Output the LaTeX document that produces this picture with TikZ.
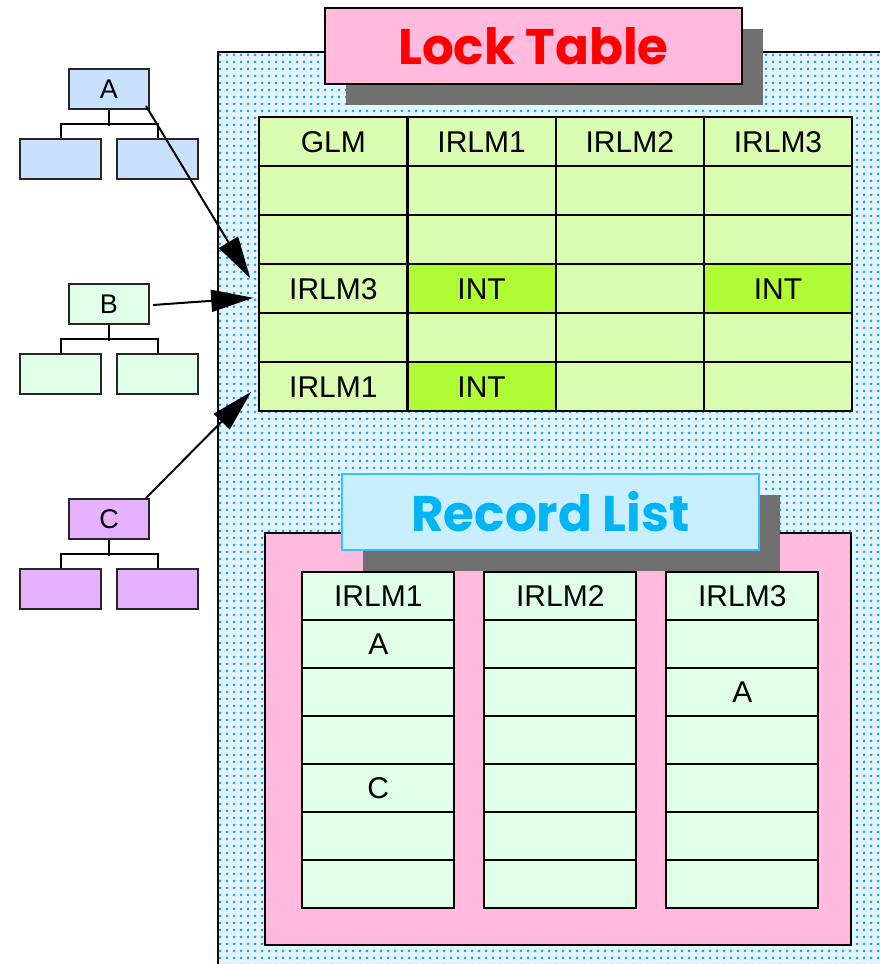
\documentclass[tikz,border=0pt]{standalone}
\usepackage{fontspec}
\setmainfont{Liberation Sans}
\newfontfamily\titlefont{Poppins}
\usetikzlibrary{arrows.meta,matrix,shadows,patterns.meta}
\definecolor{lkpanel}{HTML}{E2F5FF}
\definecolor{lkdots}{HTML}{119FEE}
\definecolor{lkgreen}{HTML}{D9FCB1}
\definecolor{lkint}{HTML}{B0FC34}
\definecolor{lkpink}{HTML}{FFBADD}
\definecolor{lkmint}{HTML}{E0FFE9}
\definecolor{lkcyan}{HTML}{C8EEFF}
\definecolor{lkcyanline}{HTML}{33C2FF}
\definecolor{lkcyantext}{HTML}{00B4F5}
\definecolor{lksky}{HTML}{C8E1FF}
\definecolor{lklav}{HTML}{E6B1FF}
\definecolor{lkshadow}{HTML}{707070}

\begin{document}
\begin{tikzpicture}[x=1pt, y=-1pt, >={Triangle[length=42pt,width=22pt]},
  cell/.style={draw, line width=2.2pt, fill=lkgreen, anchor=center,
    minimum width=148.2pt, minimum height=49pt, inner sep=0pt,
    font=\fontsize{30}{32}\selectfont},
  intcell/.style={fill=lkint},
  reccell/.style={draw, line width=2.2pt, fill=lkmint, anchor=center,
    minimum width=152pt, minimum height=48pt, inner sep=0pt,
    font=\fontsize{30}{32}\selectfont},
  titlebox/.style={rectangle, line width=2.2pt, minimum width=417pt,
    minimum height=76pt, inner sep=0pt,
    font=\titlefont\bfseries\fontsize{50}{54}\selectfont,
    drop shadow={shadow xshift=21pt, shadow yshift=-21pt,
      fill=lkshadow, opacity=1}},
  treebox/.style={draw=black!85, line width=2pt, minimum width=80pt,
    minimum height=40pt, inner sep=0pt, font=\fontsize{27}{29}\selectfont},
  treeline/.style={line width=2pt}]
\useasboundingbox (0,0) rectangle (880,964);

\begin{scope}
\clip (0,0) rectangle (880,964);
\draw[line width=2.2pt, preaction={fill=lkpanel},
      pattern={Dots[distance=6.5pt, radius=1.6pt]}, pattern color=lkdots]
  (218,52) rectangle (900,990);
\end{scope}

\node[titlebox, draw, fill=lkpink, text=red] (locktitle) at (533.5,46) {Lock Table};

\matrix (lt) [matrix of nodes, nodes in empty cells, anchor=north west,
    inner sep=0pt, column sep=-2.2pt, row sep=-2.2pt, nodes={cell}]
  at (258,116) {
  GLM & IRLM1 & IRLM2 & IRLM3 \\
  & & & \\
  & & & \\
  IRLM3 & |[intcell]| INT & & |[intcell]| INT \\
  & & & \\
  IRLM1 & |[intcell]| INT & & \\
};

\node[draw, line width=2.2pt, fill=lkpink, minimum width=586pt,
      minimum height=412pt, inner sep=0pt] (recpanel) at (558,739) {};

\node[titlebox, draw=lkcyanline, line width=1.5pt, fill=lkcyan, text=lkcyantext]
  (rectitle) at (550.5,512) {Record List};

\matrix (rl) [matrix of nodes, nodes in empty cells, anchor=north west,
    inner sep=0pt, column sep=27.8pt, row sep=-2.2pt, nodes={reccell}]
  at (301,571) {
  IRLM1 & IRLM2 & IRLM3 \\
  A & & \\
  & & A \\
  & & \\
  C & & \\
  & & \\
  & & \\
};

\node[treebox, fill=lksky] (a) at (109,89) {A};
\node[treebox, fill=lksky, minimum width=81pt] (a-l) at (60.5,159) {};
\node[treebox, fill=lksky, minimum width=81pt] (a-r) at (157.5,159) {};
\draw[treeline] (a.south) -- ++(0,16);
\draw[treeline] (a-l.north) -- ++(0,-14) -| (a-r.north);

\node[treebox, fill=lkmint] (b) at (109,304) {B};
\node[treebox, fill=lkmint, minimum width=81pt] (b-l) at (60.5,374) {};
\node[treebox, fill=lkmint, minimum width=81pt] (b-r) at (157.5,374) {};
\draw[treeline] (b.south) -- ++(0,16);
\draw[treeline] (b-l.north) -- ++(0,-14) -| (b-r.north);

\node[treebox, fill=lklav] (c) at (109,519) {C};
\node[treebox, fill=lklav, minimum width=81pt] (c-l) at (60.5,589) {};
\node[treebox, fill=lklav, minimum width=81pt] (c-r) at (157.5,589) {};
\draw[treeline] (c.south) -- ++(0,16);
\draw[treeline] (c-l.north) -- ++(0,-14) -| (c-r.north);

\draw[->, line width=2pt] ([shift={(-4,-4)}]a.south east)
  -- ([shift={(-8,15)}]lt-4-1.north west);
\draw[->, line width=2pt] ([shift={(3,1)}]b.east)
  -- ([shift={(-5,9)}]lt-4-1.west);
\draw[->, line width=2pt] ([shift={(-4,0)}]c.north east)
  -- ([shift={(-7,5)}]lt-6-1.west);
\end{tikzpicture}
\end{document}
